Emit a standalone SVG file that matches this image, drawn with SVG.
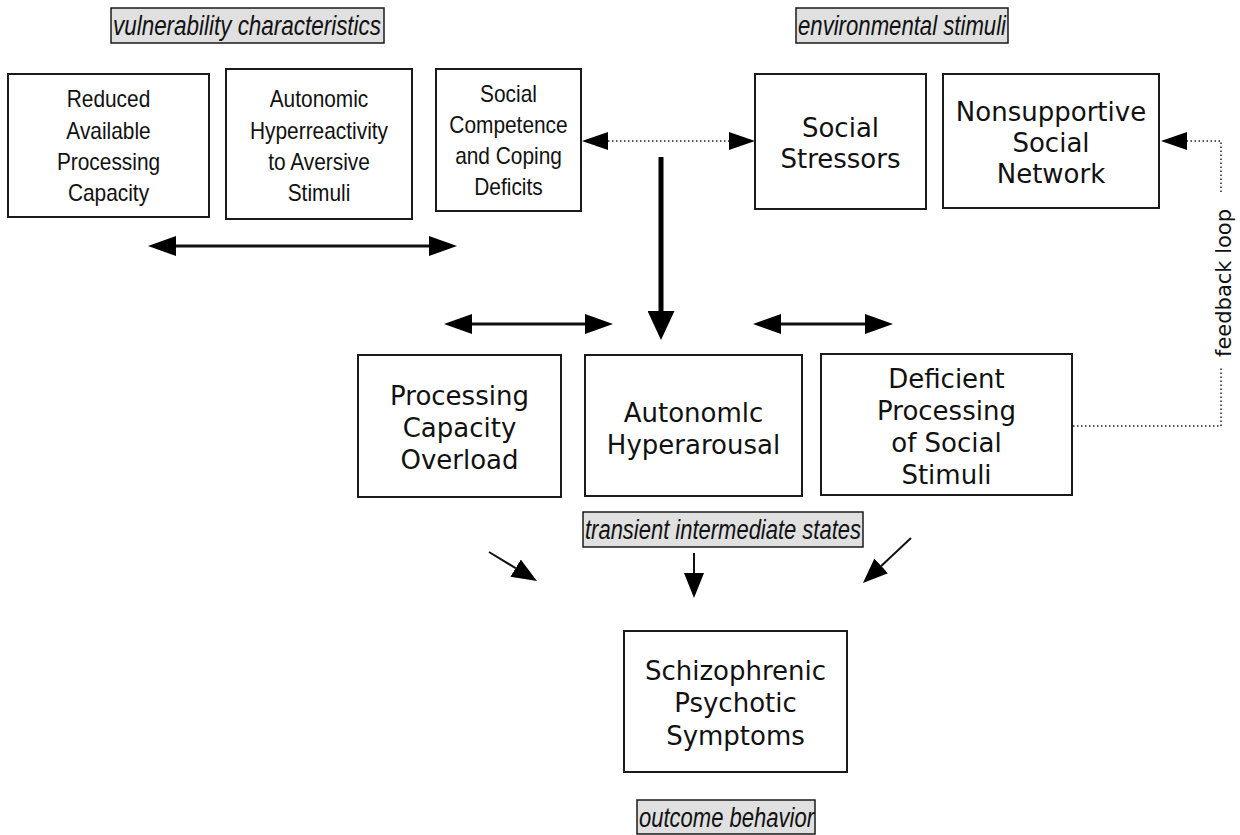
<svg xmlns="http://www.w3.org/2000/svg" width="1240" height="835" viewBox="0 0 1240 835">
<style>
.box{fill:#fff;stroke:#1a1a1a;stroke-width:2}
.lab{fill:#e0e0e0;stroke:#1a1a1a;stroke-width:1.5}
.labt{font-family:"Liberation Sans",Arial,sans-serif;font-style:italic;font-size:27px;fill:#111}
.ar{font-family:"Liberation Sans",Arial,sans-serif;font-size:24px;fill:#111;text-anchor:middle}
.dv{font-family:"DejaVu Sans",Verdana,sans-serif;font-size:26px;fill:#111;text-anchor:middle}
.fb{font-family:"DejaVu Sans",Verdana,sans-serif;font-size:21px;fill:#111;text-anchor:middle}
.ln{stroke:#111;stroke-width:3;fill:none}
.thin{stroke:#111;stroke-width:2;fill:none}
.thick{stroke:#000;stroke-width:5;fill:none}
.dot{stroke:#222;stroke-width:1.5;stroke-dasharray:1.5 2.5;fill:none}
</style>
<defs>
<marker id="h" viewBox="0 0 28 20" refX="0" refY="10" markerWidth="28" markerHeight="20" markerUnits="userSpaceOnUse" orient="auto-start-reverse"><path d="M0,0 L28,10 L0,20 z" fill="#000"/></marker>
<marker id="hs" viewBox="0 0 26 18" refX="0" refY="9" markerWidth="26" markerHeight="18" markerUnits="userSpaceOnUse" orient="auto-start-reverse"><path d="M0,0 L26,9 L0,18 z" fill="#000"/></marker>
<marker id="hb" viewBox="0 0 29 27" refX="0" refY="13.5" markerWidth="29" markerHeight="27" markerUnits="userSpaceOnUse" orient="auto"><path d="M0,0 L29,13.5 L0,27 z" fill="#000"/></marker>
<marker id="hm" viewBox="0 0 25 20" refX="0" refY="10" markerWidth="25" markerHeight="20" markerUnits="userSpaceOnUse" orient="auto"><path d="M0,0 L25,10 L0,20 z" fill="#000"/></marker>
</defs>
<rect width="1240" height="835" fill="#fff"/>

<g id="label-vulnerability">
<rect class="lab" x="111" y="8" width="273" height="35"/>
<text class="labt" x="113" y="35" textLength="268" lengthAdjust="spacingAndGlyphs">vulnerability characteristics</text>
</g>
<g id="label-environmental">
<rect class="lab" x="796" y="8" width="212" height="35"/>
<text class="labt" x="798" y="35" textLength="208" lengthAdjust="spacingAndGlyphs">environmental stimuli</text>
</g>
<g id="label-transient">
<rect class="lab" x="583" y="512" width="280" height="35"/>
<text class="labt" x="585" y="539" textLength="276" lengthAdjust="spacingAndGlyphs">transient intermediate states</text>
</g>
<g id="label-outcome">
<rect class="lab" x="637" y="800" width="178" height="34"/>
<text class="labt" x="639" y="827" textLength="175" lengthAdjust="spacingAndGlyphs">outcome behavior</text>
</g>

<g id="node-reduced">
<rect class="box" x="8" y="74" width="201" height="143"/>
<g transform="translate(108.5,0) scale(0.87,1)">
<text class="ar" x="0" y="107">Reduced</text>
<text class="ar" x="0" y="139">Available</text>
<text class="ar" x="0" y="170">Processing</text>
<text class="ar" x="0" y="201">Capacity</text>
</g>
</g>
<g id="node-autonomic-hyperreactivity">
<rect class="box" x="226" y="69" width="186" height="150"/>
<g transform="translate(319,0) scale(0.87,1)">
<text class="ar" x="0" y="107">Autonomic</text>
<text class="ar" x="0" y="139">Hyperreactivity</text>
<text class="ar" x="0" y="170">to Aversive</text>
<text class="ar" x="0" y="201">Stimuli</text>
</g>
</g>
<g id="node-social-competence">
<rect class="box" x="436" y="69" width="145" height="142"/>
<g transform="translate(508.5,0) scale(0.87,1)">
<text class="ar" x="0" y="102">Social</text>
<text class="ar" x="0" y="133">Competence</text>
<text class="ar" x="0" y="164">and Coping</text>
<text class="ar" x="0" y="195">Deficits</text>
</g>
</g>
<g id="node-social-stressors">
<rect class="box" x="755" y="74" width="171" height="135"/>
<text class="dv" x="840.5" y="137">Social</text>
<text class="dv" x="840.5" y="168">Stressors</text>
</g>
<g id="node-nonsupportive">
<rect class="box" x="943" y="74" width="216" height="134"/>
<text class="dv" x="1051" y="121">Nonsupportive</text>
<text class="dv" x="1051" y="152">Social</text>
<text class="dv" x="1051" y="183">Network</text>
</g>
<g id="node-overload">
<rect class="box" x="358" y="355" width="203" height="142"/>
<text class="dv" x="459.5" y="405">Processing</text>
<text class="dv" x="459.5" y="437">Capacity</text>
<text class="dv" x="459.5" y="469">Overload</text>
</g>
<g id="node-hyperarousal">
<rect class="box" x="585" y="355" width="217" height="141"/>
<text class="dv" x="693.5" y="422">Autonomlc</text>
<text class="dv" x="693.5" y="454">Hyperarousal</text>
</g>
<g id="node-deficient">
<rect class="box" x="821" y="354" width="251" height="141"/>
<text class="dv" x="946.5" y="388">Deficient</text>
<text class="dv" x="946.5" y="420">Processing</text>
<text class="dv" x="946.5" y="452">of Social</text>
<text class="dv" x="946.5" y="484">Stimuli</text>
</g>
<g id="node-symptoms">
<rect class="box" x="624" y="631" width="223" height="141"/>
<text class="dv" x="735.5" y="680">Schizophrenic</text>
<text class="dv" x="735.5" y="712">Psychotic</text>
<text class="dv" x="735.5" y="745">Symptoms</text>
</g>

<g id="connectors">
<line class="dot" x1="608" y1="141" x2="729" y2="141" marker-start="url(#hs)" marker-end="url(#hs)"/>
<line class="thick" x1="661" y1="157" x2="661" y2="311" marker-end="url(#hb)"/>
<line class="ln" x1="176" y1="246" x2="429" y2="246" marker-start="url(#h)" marker-end="url(#h)"/>
<line class="ln" x1="472" y1="324" x2="585" y2="324" marker-start="url(#h)" marker-end="url(#h)"/>
<line class="ln" x1="781" y1="324" x2="865" y2="324" marker-start="url(#h)" marker-end="url(#h)"/>
<path class="dot" d="M1073,426 H1221 V368 M1221,192 V141 H1187" marker-end="url(#hs)"/>
<text class="fb" transform="translate(1231,283) rotate(-90)">feedback loop</text>
<line class="thin" x1="489" y1="552" x2="515.6" y2="568.1" marker-end="url(#hm)"/>
<line class="thin" x1="694" y1="553" x2="694" y2="573" marker-end="url(#hm)"/>
<line class="thin" x1="911" y1="538" x2="881.2" y2="565.9" marker-end="url(#hm)"/>
</g>
</svg>
